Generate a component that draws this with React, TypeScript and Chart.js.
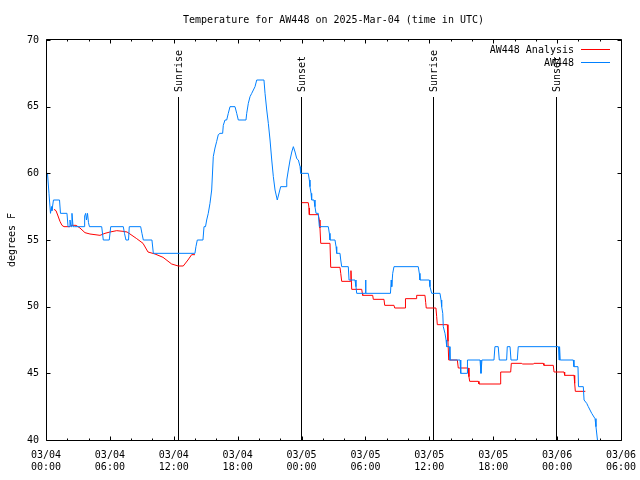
import React, { useEffect, useRef } from "react";
import { Chart, registerables } from "chart.js";

Chart.register(...registerables);

const FONT_FAMILY = "'DejaVu Sans Mono', 'Liberation Mono', monospace";

const TITLE = "Temperature for AW448 on 2025-Mar-04 (time in UTC)";
const Y_LABEL = "degrees F";

// x values are hours since 03/04 00:00 UTC
const X_MIN = 0;
const X_MAX = 54;
const X_MAJOR_STEP = 6;
const X_MINOR_STEP = 2;
const Y_MIN = 40;
const Y_MAX = 70;
const Y_STEP = 5;

const xTickLabels = [
  ["03/04", "00:00"],
  ["03/04", "06:00"],
  ["03/04", "12:00"],
  ["03/04", "18:00"],
  ["03/05", "00:00"],
  ["03/05", "06:00"],
  ["03/05", "12:00"],
  ["03/05", "18:00"],
  ["03/06", "00:00"],
  ["03/06", "06:00"],
];

const sunLabels = ["Sunrise", "Sunset", "Sunrise", "Sunset"];
const sunHours = [12.42, 23.95, 36.37, 47.86];

const seriesNames = ["AW448 Analysis", "AW448"];
const seriesColors = ["#ff0000", "#0080ff"];

// AW448 Analysis (red)
const redHours = [
  0.75, 0.94, 1.13, 1.31, 1.5, 1.69, 2.25, 2.35, 2.82, 3.19,
  3.66, 4.13, 5.07, 5.54, 6.01, 6.64, 7.23, 7.61, 7.89, 8.52,
  9.11, 9.58, 10.24, 10.99, 11.8, 12.42, 12.89, 13.33, 13.68, 13.99,
  19.0,
  24.01, 24.63, 24.7, 24.73, 25.57, 25.67, 25.73, 25.8, 26.67, 26.74,
  27.61, 27.68, 27.77, 28.6, 28.64, 28.71, 29.65, 29.71, 29.74, 30.68,
  30.74, 31.74, 31.81, 32.68, 32.75, 33.72, 33.74, 33.78, 34.75, 34.81,
  35.59, 35.66, 35.71, 36.62, 36.69, 36.75, 37.69, 37.75, 37.82, 38.63,
  38.72, 39.66, 39.72, 39.79, 40.6, 40.66, 42.64, 42.7, 43.64, 43.7,
  44.68, 44.73, 45.76, 45.83, 46.7, 46.76, 47.64, 47.71, 48.65, 48.71,
  49.59, 49.65, 49.71, 50.65,
];
const redTemps = [
  57.3, 57.2, 56.8, 56.4, 56.1, 56, 56, 56.1, 56.1, 55.9,
  55.55, 55.45, 55.35, 55.5, 55.6, 55.7, 55.65, 55.6, 55.45, 55.1,
  54.75, 54.1, 53.95, 53.7, 53.2, 53.05, 53.05, 53.5, 53.9, 53.9,
  null,
  57.8, 57.8, 57.4, 56.9, 56.9, 56.5, 55.9, 54.75, 54.75, 52.95,
  52.95, 52.5, 51.9, 51.9, 52.7, 51.3, 51.3, 51.0, 50.85, 50.85,
  50.55, 50.55, 50.1, 50.1, 49.9, 49.9, 50.4, 50.6, 50.6, 50.85,
  50.85, 50.3, 49.9, 49.9, 49.25, 48.65, 48.65, 47.4, 46, 46,
  45.4, 45.4, 44.75, 44.4, 44.4, 44.2, 44.2, 45.1, 45.1, 45.75,
  45.75, 45.7, 45.7, 45.75, 45.75, 45.6, 45.6, 45.1, 45.1, 44.85,
  44.85, 44.25, 43.65, 43.65,
];

// AW448 observations (blue)
const blueHours = [
  0.0, 0.14, 0.28, 0.42, 0.52, 0.56, 0.7, 1.27, 1.36, 1.97,
  2.07, 2.21, 2.25, 2.35, 2.44, 2.54, 2.68, 3.57, 3.63, 3.73,
  3.8, 3.9, 3.99, 4.08, 5.23, 5.38, 5.94, 6.08, 7.26, 7.37,
  7.51, 7.75, 7.82, 8.89, 9.01, 9.14, 9.95, 10.08, 13.99, 14.08,
  14.21, 14.74, 14.84, 14.98, 15.09, 15.24, 15.4, 15.56, 15.65, 15.71,
  15.87, 16.03, 16.18, 16.34, 16.59, 16.65, 16.81, 16.97, 17.12, 17.28,
  17.75, 17.91, 18.06, 18.78, 18.85, 19.0, 19.16, 19.32, 19.63, 19.79,
  20.47, 20.57, 20.73, 20.88, 21.04, 21.2, 21.35, 21.51, 21.72, 21.91,
  22.04, 22.54, 22.61, 22.76, 22.92, 23.08, 23.23, 23.39, 23.55, 23.7,
  23.86, 23.92, 24.63, 24.73, 24.79, 24.89, 24.95, 25.17, 25.26, 25.36,
  25.57, 25.67, 26.51, 26.61, 26.67, 27.14, 27.24, 27.3, 27.61, 27.68,
  27.77, 28.39, 28.46, 29.02, 29.11, 29.18, 29.96, 30.01, 30.05, 32.35,
  32.42, 32.47, 32.56, 32.68, 34.96, 35.06, 35.12, 36.0, 36.06, 36.22,
  37.0, 37.1, 37.16, 37.26, 37.31, 37.47, 37.57, 37.63, 37.88, 37.94,
  38.88, 38.95, 39.54, 39.58, 40.76, 40.85, 40.94, 42.07, 42.16, 42.47,
  42.57, 43.26, 43.32, 43.58, 43.67, 44.26, 44.35, 48.13, 48.18, 48.23,
  48.29, 49.52, 49.58, 49.96, 50.01, 50.46, 50.53, 50.78, 50.93, 51.09,
  51.25, 51.56, 51.65, 51.79, 51.93,
];
const blueTemps = [
  60, 60, 58.5, 57, 57.5, 57.2, 58, 58, 57, 57,
  56, 56, 56.5, 56, 57, 56, 56, 56, 56.8, 57,
  56.5, 57, 56.3, 56, 56, 55, 55, 56, 56, 55.5,
  55, 55, 56, 56, 55.5, 55, 55, 54, 54, 54.5,
  55, 55, 56, 56, 56.5, 57, 57.75, 58.75, 60.25, 61.25,
  61.9, 62.4, 62.9, 63, 63, 63.6, 64, 64, 64.5, 65,
  65, 64.5, 64, 64, 64.5, 65.25, 65.75, 66, 66.5, 67,
  67, 66, 64.75, 63.75, 62.5, 61, 59.75, 58.75, 58, 58.6,
  59, 59, 59.5, 60.25, 61, 61.6, 62, 61.6, 61.1, 61,
  60.5, 60, 60, 59.5, 59, 58.5, 58, 58, 57.5, 57,
  57, 56, 56, 55.5, 55, 55, 54.5, 54, 54, 53.5,
  53, 53, 52, 52, 51.5, 51, 51, 52, 51, 51,
  52, 51.5, 52.5, 53, 53, 52.5, 52, 52, 51.5, 51,
  51, 50.5, 50, 49.5, 48.5, 48, 47.5, 47, 47, 46,
  46, 45, 45, 46, 46, 45, 46, 46, 47, 47,
  46, 46, 47, 47, 46, 46, 47, 47, 46, 47,
  46, 46, 45.5, 45.5, 44, 44, 43, 42.75, 42.5, 42.25,
  42, 41.6, 41, 40, 39,
];

const FONT = `10px ${FONT_FAMILY}`;

const decorPlugin = {
  id: "decor",
  beforeDatasetsDraw(chart: any) {
    const { ctx, chartArea: a, scales } = chart;
    const x = scales.x;
    ctx.save();
    ctx.strokeStyle = "#000";
    ctx.fillStyle = "#000";
    ctx.lineWidth = 1;
    ctx.font = FONT;
    sunHours.forEach((h, i) => {
      const px = Math.round(x.getPixelForValue(h)) + 0.5;
      ctx.beginPath();
      ctx.moveTo(px, a.top + 57);
      ctx.lineTo(px, a.bottom);
      ctx.stroke();
      ctx.save();
      ctx.translate(px + 0.5, a.top + 52);
      ctx.rotate(-Math.PI / 2);
      ctx.textAlign = "left";
      ctx.textBaseline = "middle";
      ctx.fillText(sunLabels[i], 0, 0);
      ctx.restore();
    });
    ctx.restore();
  },
  afterDatasetsDraw(chart: any) {
    const { ctx, chartArea: a, scales } = chart;
    const x = scales.x;
    const y = scales.y;
    const L = Math.round(a.left) + 0.5;
    const R = Math.round(a.right) + 0.5;
    const T = Math.round(a.top) - 0.5;
    const B = Math.round(a.bottom) + 0.5;
    ctx.save();
    ctx.strokeStyle = "#000";
    ctx.lineWidth = 1;
    ctx.beginPath();
    ctx.rect(L, T, R - L, B - T);
    for (let v = Y_MIN; v <= Y_MAX; v += Y_STEP) {
      const py = Math.round(y.getPixelForValue(v)) + 0.5;
      ctx.moveTo(L, py);
      ctx.lineTo(L + 4, py);
      ctx.moveTo(R, py);
      ctx.lineTo(R - 4, py);
    }
    for (let h = X_MIN; h <= X_MAX; h += X_MINOR_STEP) {
      const len = h % X_MAJOR_STEP === 0 ? 4 : 2;
      const px = Math.round(x.getPixelForValue(h)) + 0.5;
      ctx.moveTo(px, B);
      ctx.lineTo(px, B - len);
      ctx.moveTo(px, T);
      ctx.lineTo(px, T + len);
    }
    ctx.stroke();
    ctx.restore();
  },
  afterDraw(chart: any) {
    const { ctx, chartArea: a } = chart;
    ctx.save();
    ctx.fillStyle = "#000";
    ctx.font = FONT;
    ctx.textBaseline = "middle";
    ctx.textAlign = "center";
    ctx.fillText(TITLE, (a.left + a.right) / 2, 20);

    ctx.save();
    ctx.translate(12, (a.top + a.bottom) / 2);
    ctx.rotate(-Math.PI / 2);
    ctx.fillText(Y_LABEL, 0, 0);
    ctx.restore();

    ctx.textAlign = "right";
    seriesNames.forEach((name, i) => {
      const ly = a.top + 9.5 + i * 13;
      ctx.fillStyle = "#000";
      ctx.fillText(name, a.right - 47, ly + 0.5);
      ctx.strokeStyle = seriesColors[i];
      ctx.lineWidth = 1;
      ctx.beginPath();
      ctx.moveTo(a.right - 40, ly);
      ctx.lineTo(a.right - 11, ly);
      ctx.stroke();
    });
    ctx.restore();
  },
};

export default function App() {
  const ref = useRef<HTMLCanvasElement>(null);

  useEffect(() => {
    const canvas = ref.current;
    if (!canvas) return;
    const chart = new Chart(canvas, {
      type: "line",
      data: {
        datasets: [
          {
            label: seriesNames[0],
            data: redHours.map((h, i) => ({ x: h, y: redTemps[i] })) as any,
            borderColor: seriesColors[0],
            backgroundColor: seriesColors[0],
            borderWidth: 1,
            pointRadius: 0,
            tension: 0,
            spanGaps: false,
            fill: false,
            order: 1,
          },
          {
            label: seriesNames[1],
            data: blueHours.map((h, i) => ({ x: h, y: blueTemps[i] })),
            borderColor: seriesColors[1],
            backgroundColor: seriesColors[1],
            borderWidth: 1,
            pointRadius: 0,
            tension: 0,
            fill: false,
            order: 0,
          },
        ],
      },
      options: {
        animation: false,
        responsive: false,
        devicePixelRatio: 1,
        layout: { padding: { top: 40, right: 19, left: 0, bottom: 0 } },
        plugins: {
          legend: { display: false },
          title: { display: false },
          tooltip: { enabled: false },
        },
        scales: {
          x: {
            type: "linear",
            min: X_MIN,
            max: X_MAX,
            grid: { display: false, drawTicks: false },
            border: { display: false },
            afterFit: (s: any) => {
              s.height = 40;
              s.paddingLeft = 0;
              s.paddingRight = 0;
            },
            ticks: {
              stepSize: X_MAJOR_STEP,
              autoSkip: false,
              maxRotation: 0,
              minRotation: 0,
              padding: 9,
              color: "#000",
              font: { family: FONT_FAMILY, size: 10, lineHeight: 1.2 },
              callback: (v: any) => xTickLabels[Math.round(Number(v) / X_MAJOR_STEP)] as any,
            },
          },
          y: {
            type: "linear",
            min: Y_MIN,
            max: Y_MAX,
            grid: { display: false, drawTicks: false },
            border: { display: false },
            afterFit: (s: any) => {
              s.width = 46;
              s.paddingTop = 0;
              s.paddingBottom = 0;
            },
            ticks: {
              stepSize: Y_STEP,
              padding: 7,
              color: "#000",
              font: { family: FONT_FAMILY, size: 10 },
              callback: (v: any) => String(v),
            },
          },
        },
      },
      plugins: [decorPlugin],
    });
    return () => chart.destroy();
  }, []);

  return (
    <div style={{ position: "fixed", left: 0, top: 0, width: 640, height: 480, background: "#fff" }}>
      <canvas ref={ref} width={640} height={480} style={{ display: "block", width: 640, height: 480 }} />
    </div>
  );
}
